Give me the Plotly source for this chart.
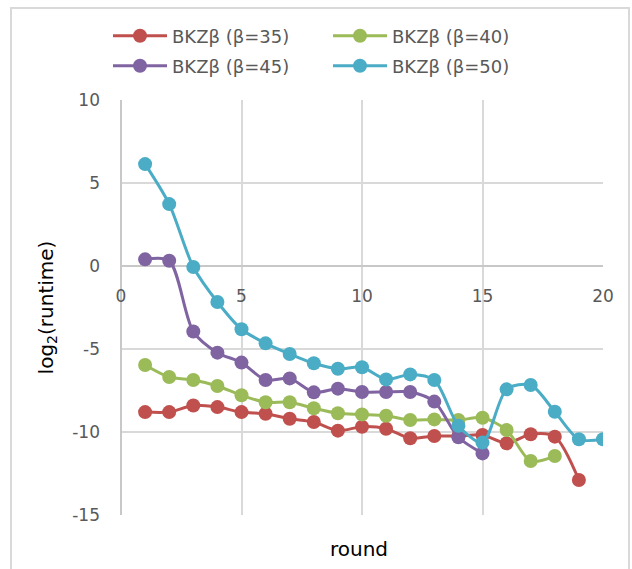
import plotly.graph_objects as go

rounds_35 = list(range(1, 20))
vals_35 = [-8.8, -8.8, -8.4, -8.5, -8.8, -8.9, -9.2, -9.4, -9.92, -9.68,
           -9.8, -10.38, -10.24, -10.24, -10.18, -10.68, -10.14, -10.28, -12.89]

rounds_40 = list(range(1, 19))
vals_40 = [-5.96, -6.69, -6.87, -7.23, -7.79, -8.21, -8.21, -8.57, -8.87, -8.94,
           -9.02, -9.28, -9.24, -9.28, -9.14, -9.88, -11.75, -11.45]

rounds_45 = list(range(1, 16))
vals_45 = [0.40, 0.32, -3.95, -5.22, -5.82, -6.87, -6.77, -7.61, -7.39, -7.59,
           -7.59, -7.59, -8.17, -10.32, -11.29]

rounds_50 = list(range(1, 21))
vals_50 = [6.14, 3.73, -0.06, -2.17, -3.81, -4.66, -5.3, -5.86, -6.19, -6.1,
           -6.83, -6.53, -6.87, -9.62, -10.64, -7.43, -7.17, -8.78, -10.44, -10.44]

names = ["BKZβ (β=35)", "BKZβ (β=40)", "BKZβ (β=45)", "BKZβ (β=50)"]
colors = ["#C0504D", "#9BBB59", "#8064A2", "#4BACC6"]
legend_ids = ["legend", "legend", "legend2", "legend2"]
series = [(rounds_35, vals_35), (rounds_40, vals_40), (rounds_45, vals_45), (rounds_50, vals_50)]

x_ticks = [0, 5, 10, 15, 20]
y_ticks = [10, 5, 0, -5, -10, -15]

FONT = "DejaVu Sans"
W, H = 632, 569
ML, MR, MT, MB = 121, 29, 100, 54
PW, PH = W - ML - MR, H - MT - MB

fig = go.Figure()
for (xs, ys), nm, c, lg in zip(series, names, colors, legend_ids):
    fig.add_trace(go.Scatter(
        x=xs, y=ys, name=nm, mode="lines+markers", legend=lg,
        line=dict(color=c, width=3, shape="spline", smoothing=0.8),
        marker=dict(color=c, size=14),
    ))

grid = "#d9d9d9"
leg_common = dict(
    orientation="h", xanchor="left", yanchor="middle",
    entrywidth=151, entrywidthmode="pixels",
    itemwidth=54,
    font=dict(family=FONT, size=18, color="#595959"),
    bgcolor="rgba(0,0,0,0)",
)
fig.update_layout(
    width=W, height=H,
    margin=dict(l=ML, r=MR, t=MT, b=MB),
    paper_bgcolor="white", plot_bgcolor="white",
    font=dict(family=FONT, size=17, color="#595959"),
    xaxis=dict(
        range=[0, 20], tickvals=x_ticks, ticktext=[str(v) for v in x_ticks],
        showgrid=True, gridcolor=grid, gridwidth=1.5,
        zeroline=True, zerolinecolor="#c8c8c8", zerolinewidth=1.5,
        showline=False, ticks="",
        anchor="free", position=15 / 25,
        ticklabelstandoff=18,
        tickfont=dict(family=FONT, size=17, color="#595959"),
    ),
    yaxis=dict(
        range=[-15, 10], tickvals=y_ticks, ticktext=[str(v) for v in y_ticks],
        showgrid=True, gridcolor=grid, gridwidth=1.5,
        zeroline=True, zerolinecolor="#c8c8c8", zerolinewidth=1.5,
        showline=False, ticks="",
        ticklabelstandoff=20,
        tickfont=dict(family=FONT, size=17, color="#595959"),
        title=dict(text="log<sub>2</sub>(runtime)", standoff=13,
                   font=dict(family=FONT, size=20, color="#000000")),
    ),
    legend=dict(leg_common, x=(108 - ML) / PW, y=1 + (MT - 36) / PH),
    legend2=dict(leg_common, x=(108 - ML) / PW, y=1 + (MT - 66) / PH),
    showlegend=True,
)

fig.add_annotation(
    text="round", xref="paper", yref="paper",
    x=(359 - ML) / PW, y=-(549 - MT - PH) / PH,
    xanchor="center", yanchor="middle", showarrow=False,
    font=dict(family=FONT, size=20, color="#000000"),
)

# outer chart border
fig.add_shape(
    type="rect", xref="paper", yref="paper",
    x0=(11 - ML) / PW, x1=(629 - ML) / PW,
    y0=-(575 - MT - PH) / PH, y1=1 + (MT - 8) / PH,
    line=dict(color="#d9d9d9", width=2), fillcolor="rgba(0,0,0,0)", layer="below",
)

fig.write_html("out.html")
